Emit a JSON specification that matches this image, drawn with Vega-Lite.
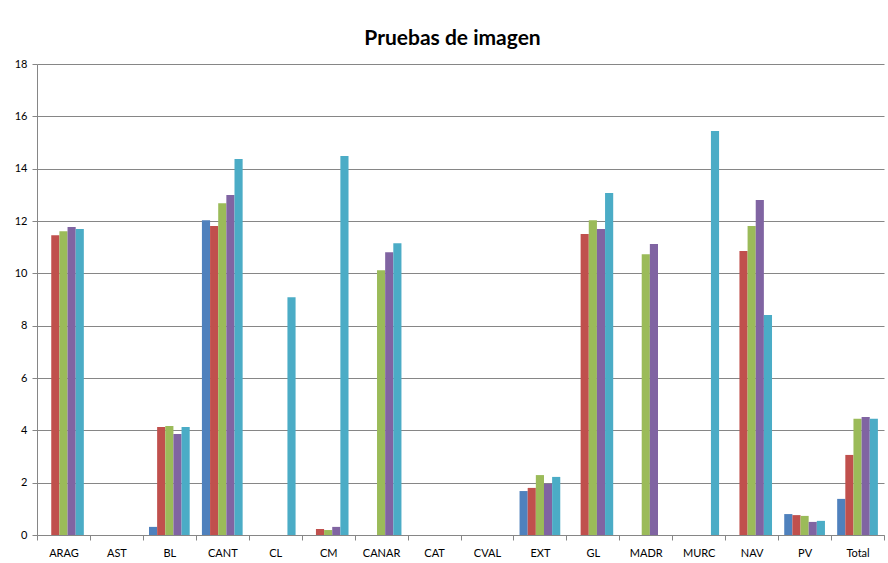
{
  "$schema": "https://vega.github.io/schema/vega-lite/v6.json",
  "width": 847,
  "height": 471,
  "autosize": {"type": "none"},
  "padding": {"left": 37, "top": 64, "right": 4, "bottom": 28},
  "background": "white",
  "title": {"text": "Pruebas de imagen", "font": "Lato", "fontSize": 21, "fontWeight": "bold", "color": "#000000", "anchor": "middle", "baseline": "alphabetic", "offset": 19, "dx": -8, "dy": 27},
  "data": {"values": [
    {"region": "ARAG", "serie": "Serie 1", "valor": 0},
    {"region": "ARAG", "serie": "Serie 2", "valor": 11.46},
    {"region": "ARAG", "serie": "Serie 3", "valor": 11.61},
    {"region": "ARAG", "serie": "Serie 4", "valor": 11.77},
    {"region": "ARAG", "serie": "Serie 5", "valor": 11.69},
    {"region": "AST", "serie": "Serie 1", "valor": 0},
    {"region": "AST", "serie": "Serie 2", "valor": 0},
    {"region": "AST", "serie": "Serie 3", "valor": 0},
    {"region": "AST", "serie": "Serie 4", "valor": 0},
    {"region": "AST", "serie": "Serie 5", "valor": 0},
    {"region": "BL", "serie": "Serie 1", "valor": 0.31},
    {"region": "BL", "serie": "Serie 2", "valor": 4.13},
    {"region": "BL", "serie": "Serie 3", "valor": 4.17},
    {"region": "BL", "serie": "Serie 4", "valor": 3.86},
    {"region": "BL", "serie": "Serie 5", "valor": 4.13},
    {"region": "CANT", "serie": "Serie 1", "valor": 12.03},
    {"region": "CANT", "serie": "Serie 2", "valor": 11.81},
    {"region": "CANT", "serie": "Serie 3", "valor": 12.68},
    {"region": "CANT", "serie": "Serie 4", "valor": 12.99},
    {"region": "CANT", "serie": "Serie 5", "valor": 14.37},
    {"region": "CL", "serie": "Serie 1", "valor": 0},
    {"region": "CL", "serie": "Serie 2", "valor": 0},
    {"region": "CL", "serie": "Serie 3", "valor": 0},
    {"region": "CL", "serie": "Serie 4", "valor": 0},
    {"region": "CL", "serie": "Serie 5", "valor": 9.09},
    {"region": "CM", "serie": "Serie 1", "valor": 0},
    {"region": "CM", "serie": "Serie 2", "valor": 0.23},
    {"region": "CM", "serie": "Serie 3", "valor": 0.19},
    {"region": "CM", "serie": "Serie 4", "valor": 0.31},
    {"region": "CM", "serie": "Serie 5", "valor": 14.48},
    {"region": "CANAR", "serie": "Serie 1", "valor": 0},
    {"region": "CANAR", "serie": "Serie 2", "valor": 0},
    {"region": "CANAR", "serie": "Serie 3", "valor": 10.12},
    {"region": "CANAR", "serie": "Serie 4", "valor": 10.81},
    {"region": "CANAR", "serie": "Serie 5", "valor": 11.15},
    {"region": "CAT", "serie": "Serie 1", "valor": 0},
    {"region": "CAT", "serie": "Serie 2", "valor": 0},
    {"region": "CAT", "serie": "Serie 3", "valor": 0},
    {"region": "CAT", "serie": "Serie 4", "valor": 0},
    {"region": "CAT", "serie": "Serie 5", "valor": 0},
    {"region": "CVAL", "serie": "Serie 1", "valor": 0},
    {"region": "CVAL", "serie": "Serie 2", "valor": 0},
    {"region": "CVAL", "serie": "Serie 3", "valor": 0},
    {"region": "CVAL", "serie": "Serie 4", "valor": 0},
    {"region": "CVAL", "serie": "Serie 5", "valor": 0},
    {"region": "EXT", "serie": "Serie 1", "valor": 1.68},
    {"region": "EXT", "serie": "Serie 2", "valor": 1.8},
    {"region": "EXT", "serie": "Serie 3", "valor": 2.29},
    {"region": "EXT", "serie": "Serie 4", "valor": 1.96},
    {"region": "EXT", "serie": "Serie 5", "valor": 2.22},
    {"region": "GL", "serie": "Serie 1", "valor": 0},
    {"region": "GL", "serie": "Serie 2", "valor": 11.5},
    {"region": "GL", "serie": "Serie 3", "valor": 12.03},
    {"region": "GL", "serie": "Serie 4", "valor": 11.69},
    {"region": "GL", "serie": "Serie 5", "valor": 13.07},
    {"region": "MADR", "serie": "Serie 1", "valor": 0},
    {"region": "MADR", "serie": "Serie 2", "valor": 0},
    {"region": "MADR", "serie": "Serie 3", "valor": 10.73},
    {"region": "MADR", "serie": "Serie 4", "valor": 11.12},
    {"region": "MADR", "serie": "Serie 5", "valor": 0},
    {"region": "MURC", "serie": "Serie 1", "valor": 0},
    {"region": "MURC", "serie": "Serie 2", "valor": 0},
    {"region": "MURC", "serie": "Serie 3", "valor": 0},
    {"region": "MURC", "serie": "Serie 4", "valor": 0},
    {"region": "MURC", "serie": "Serie 5", "valor": 15.44},
    {"region": "NAV", "serie": "Serie 1", "valor": 0},
    {"region": "NAV", "serie": "Serie 2", "valor": 10.85},
    {"region": "NAV", "serie": "Serie 3", "valor": 11.81},
    {"region": "NAV", "serie": "Serie 4", "valor": 12.8},
    {"region": "NAV", "serie": "Serie 5", "valor": 8.41},
    {"region": "PV", "serie": "Serie 1", "valor": 0.8},
    {"region": "PV", "serie": "Serie 2", "valor": 0.76},
    {"region": "PV", "serie": "Serie 3", "valor": 0.73},
    {"region": "PV", "serie": "Serie 4", "valor": 0.5},
    {"region": "PV", "serie": "Serie 5", "valor": 0.54},
    {"region": "Total", "serie": "Serie 1", "valor": 1.38},
    {"region": "Total", "serie": "Serie 2", "valor": 3.06},
    {"region": "Total", "serie": "Serie 3", "valor": 4.44},
    {"region": "Total", "serie": "Serie 4", "valor": 4.51},
    {"region": "Total", "serie": "Serie 5", "valor": 4.44}
  ]},
  "mark": {"type": "bar"},
  "encoding": {
    "x": {
      "field": "region", "type": "nominal", "sort": null,
      "scale": {"paddingInner": 0, "paddingOuter": 0},
      "axis": {"title": null, "labelAngle": 0, "tickBand": "extent", "tickSize": 5, "tickColor": "#868686", "domainColor": "#868686", "labelFont": "Lato", "labelFontSize": 11, "labelColor": "#000000", "labelPadding": 7, "grid": false}
    },
    "xOffset": {"field": "serie", "type": "nominal", "scale": {"paddingInner": 0, "paddingOuter": 0.75}},
    "y": {
      "field": "valor", "type": "quantitative",
      "scale": {"domain": [0, 18], "nice": false, "zero": true},
      "axis": {"title": null, "values": [0, 2, 4, 6, 8, 10, 12, 14, 16, 18], "tickSize": 5, "tickColor": "#868686", "domainColor": "#868686", "gridColor": "#868686", "grid": true, "labelFont": "Lato", "labelFontSize": 11, "labelColor": "#000000", "labelPadding": 5}
    },
    "color": {
      "field": "serie", "type": "nominal",
      "scale": {"domain": ["Serie 1", "Serie 2", "Serie 3", "Serie 4", "Serie 5"], "range": ["#4F81BD", "#C0504D", "#9BBB59", "#8064A2", "#4BACC6"]},
      "legend": null
    }
  },
  "config": {"view": {"stroke": null}}
}
